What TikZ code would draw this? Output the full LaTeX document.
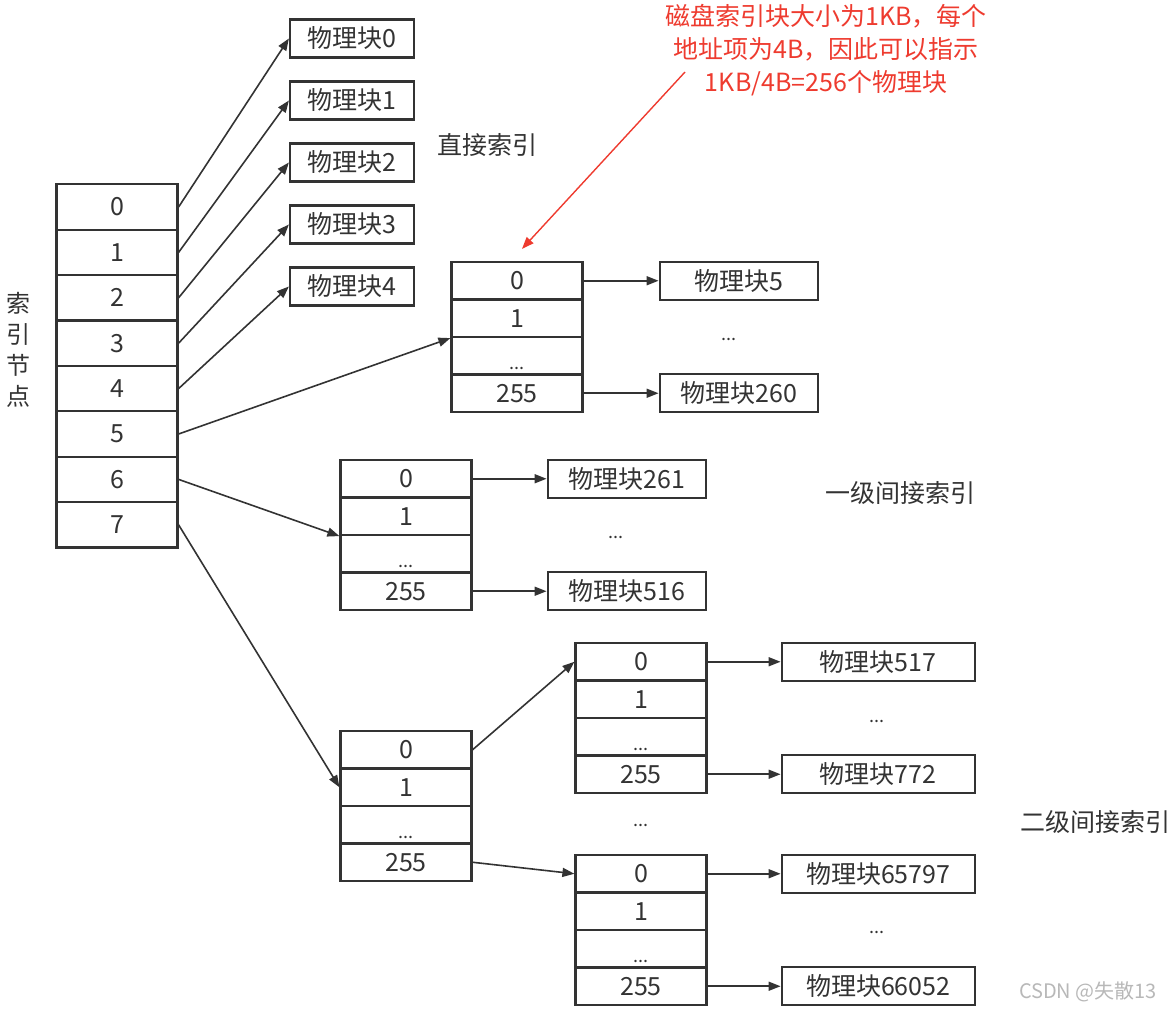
\documentclass[tikz,border=0pt]{standalone}
\usepackage{fontspec}
\setmainfont{Noto Sans CJK SC}
\usetikzlibrary{arrows.meta,positioning}
\definecolor{ixLine}{HTML}{333333}
\definecolor{ixText}{HTML}{333333}
\definecolor{ixNote}{HTML}{EE3B2F}
\definecolor{ixMark}{HTML}{B8B8B8}

% one index block: four rows 0, 1, ..., 255
\newcommand\idxtab[3]{%
  \foreach \r/\txt in {0/0,1/1,2/{\smash{\raisebox{-14pt}{\fontsize{18}{20}\selectfont ...}}},3/255}
    \node[row] (#1\r) at (#2,{#3+18.75+37.5*\r}) {\txt};}

\begin{document}
\begin{tikzpicture}[x=1pt,y=-1pt,>={Triangle[length=12pt,width=9pt]},
        font=\fontsize{25}{30}\selectfont,text=ixText,
        cell/.style={draw=ixLine,line width=2.2pt,minimum width=121pt,
                     minimum height=45.4pt,inner sep=0pt},
        row/.style={draw=ixLine,line width=2.2pt,minimum width=131pt,
                    minimum height=37.5pt,inner sep=0pt},
        blk/.style={draw=ixLine,line width=2.2pt,minimum height=38pt,inner sep=0pt},
        lnk/.style={->,line width=1.6pt,draw=ixLine},
        tag/.style={inner sep=0pt},
        gap/.style={inner sep=0pt,font=\fontsize{18}{20}\selectfont}]
        \useasboundingbox (0,0) rectangle (1170,1011);

        % index node
        \foreach \n in {0,...,7}
          \node[cell] (in\n) at (117,{207+45.4*\n}) {\n};
        \node[tag,align=center,font=\fontsize{24}{31}\selectfont] (inlbl) at (18,350) {索\\引\\节\\点};

        % direct index
        \foreach \n in {0,...,4} {
          \node[blk,minimum width=124pt] (pb\n) at (352,{38.5+62*\n}) {物理块\n};
          \draw[lnk] (in\n.east) -- (pb\n.west);
        }
        \node[tag] (lbl0) at (487,145) {直接索引};

        % index blocks
        \idxtab{dir}{517}{262}
        \idxtab{one}{406}{460}
        \idxtab{two}{406}{731}
        \idxtab{twa}{641}{643}
        \idxtab{twb}{641}{855}

        \node[blk,minimum width=158pt,right=75pt of dir0] (pb5) {物理块5};
        \node[blk,minimum width=158pt,right=75pt of dir3] (pb260) {物理块260};
        \node[blk,minimum width=158pt,right=74pt of one0] (pb261) {物理块261};
        \node[blk,minimum width=158pt,right=74pt of one3] (pb516) {物理块516};
        \node[blk,minimum width=193pt,right=73pt of twa0] (pb517) {物理块517};
        \node[blk,minimum width=193pt,right=73pt of twa3] (pb772) {物理块772};
        \node[blk,minimum width=193pt,right=73pt of twb0] (pb65797) {物理块65797};
        \node[blk,minimum width=193pt,right=73pt of twb3] (pb66052) {物理块66052};

        \draw[lnk] (in5.east) -- (dir1.south west);
        \draw[lnk] (in6.east) -- (one1.south west);
        \draw[lnk] (in7.east) -- (two1.west);
        \draw[lnk] (two0.east) -- (twa0.west);
        \draw[lnk] (two3.east) -- (twb0.west);
        \foreach \a/\b in {dir0/pb5,dir3/pb260,one0/pb261,one3/pb516,
                           twa0/pb517,twa3/pb772,twb0/pb65797,twb3/pb66052}
          \draw[lnk] (\a) -- (\b);

        % gaps
        \node[gap] (gap1) at (729,339) {...};
        \node[gap] (gap2) at (616,537) {...};
        \node[gap] (gap3) at (877,721) {...};
        \node[gap] (gap4) at (877,932) {...};
        \node[gap] (gap5) at (641,825) {...};

        \node[tag] (lbl1) at (900,493) {一级间接索引};
        \node[tag] (lbl2) at (1095,822) {二级间接索引};

        % note
        \node[tag,text=ixNote,align=center,font=\fontsize{25}{33}\selectfont] (note) at (826,50)
          {磁盘索引块大小为1KB，每个\\地址项为4B，因此可以指示\\1KB/4B=256个物理块};
        \coordinate (noteTail) at (685,72);
        \draw[->,ixNote,line width=1.4pt] (noteTail) -- ([xshift=5pt,yshift=12pt]dir0.north);

        \node[tag,text=ixMark,font=\fontsize{20}{24}\selectfont] (mark) at (1088,992) {CSDN @失散13};
      \end{tikzpicture}
\end{document}
